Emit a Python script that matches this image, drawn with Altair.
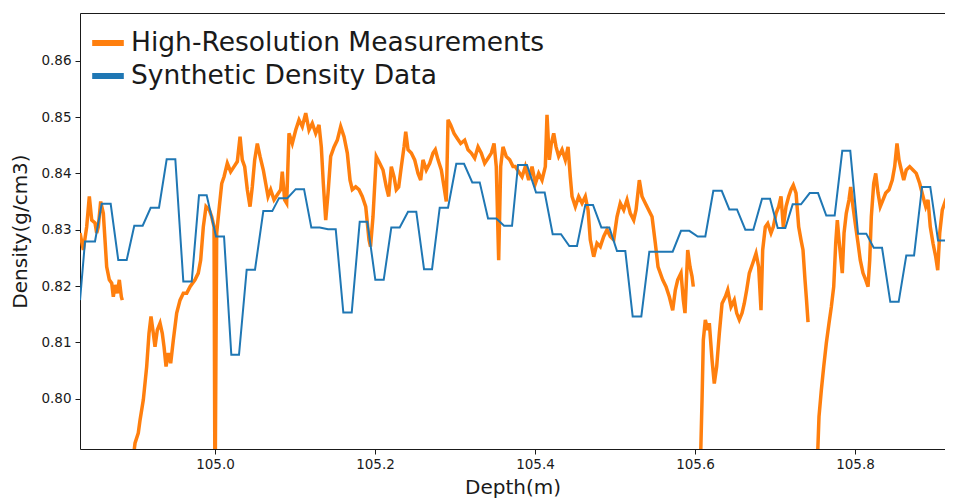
import altair as alt
import pandas as pd

# ---------------- data ----------------
SERIES_HR = "High-Resolution Measurements"
SERIES_SYN = "Synthetic Density Data"

syn_depth = [104.8313, 104.8375, 104.85, 104.8584, 104.8696, 104.8791, 104.8896, 104.8991, 104.9096,
             104.9196, 104.93, 104.9396, 104.9504, 104.9604, 104.9709, 104.98, 104.9896, 105.0013,
             105.0113, 105.0204, 105.03, 105.0396, 105.05, 105.0604, 105.0716, 105.08, 105.0904,
             105.1009, 105.1113, 105.1204, 105.1309, 105.1413, 105.1509, 105.1604, 105.1709, 105.1809,
             105.1904, 105.2004, 105.2109, 105.2204, 105.2309, 105.2413, 105.2516, 105.2613, 105.2713,
             105.2809, 105.2913, 105.3016, 105.3113, 105.3216, 105.3309, 105.3413, 105.3516, 105.3613,
             105.3713, 105.3788, 105.39, 105.4013, 105.4121, 105.4221, 105.4325, 105.4429, 105.4525,
             105.4629, 105.4725, 105.4829, 105.4929, 105.5025, 105.5129, 105.5221, 105.5329, 105.5429,
             105.5538, 105.5721, 105.5825, 105.5929, 105.6034, 105.6129, 105.6229, 105.6334, 105.6429,
             105.6525, 105.6629, 105.6729, 105.6838, 105.6938, 105.7034, 105.7129, 105.7221, 105.7325,
             105.7434, 105.7538, 105.7641, 105.7746, 105.7841, 105.7941, 105.8038, 105.8141, 105.8234,
             105.8338, 105.8441, 105.8546, 105.8641, 105.8738, 105.8838, 105.8941, 105.9038, 105.9141,
             105.9225, 105.93]
syn_density = [0.8175, 0.8279, 0.8279, 0.8346, 0.8346, 0.8246, 0.8246, 0.8307, 0.8307,
               0.8339, 0.8339, 0.8425, 0.8425, 0.8208, 0.8208, 0.8361, 0.8361, 0.8288,
               0.8288, 0.8078, 0.8078, 0.8229, 0.8229, 0.8333, 0.8333, 0.8356, 0.8356,
               0.8372, 0.8372, 0.8304, 0.8304, 0.8301, 0.8301, 0.8153, 0.8153, 0.8314,
               0.8314, 0.8211, 0.8211, 0.8304, 0.8304, 0.8332, 0.8332, 0.8230, 0.8230,
               0.8339, 0.8339, 0.8417, 0.8417, 0.8384, 0.8384, 0.8320, 0.8320, 0.8307,
               0.8307, 0.8415, 0.8415, 0.8366, 0.8366, 0.8292, 0.8292, 0.8271, 0.8271,
               0.8344, 0.8344, 0.8304, 0.8304, 0.8262, 0.8262, 0.8146, 0.8146, 0.8261,
               0.8261, 0.8261, 0.8298, 0.8298, 0.8288, 0.8288, 0.8369, 0.8369, 0.8336,
               0.8336, 0.8300, 0.8300, 0.8355, 0.8355, 0.8303, 0.8303, 0.8345, 0.8345,
               0.8365, 0.8365, 0.8325, 0.8325, 0.8440, 0.8440, 0.8293, 0.8293, 0.8268,
               0.8268, 0.8172, 0.8172, 0.8254, 0.8254, 0.8376, 0.8376, 0.8281, 0.8281,
               0.8241, 0.8228]

hr1_depth = [104.8313, 104.8354, 104.8396, 104.8429, 104.8459, 104.85, 104.8521, 104.8541, 104.8571,
             104.8604, 104.8625, 104.8646, 104.8679, 104.8709, 104.8729, 104.875, 104.8779, 104.8804,
             104.8829, 104.8841]
hr1_density = [0.8294, 0.8264, 0.8305, 0.8359, 0.8317, 0.8312, 0.8294, 0.8305, 0.8350,
               0.8329, 0.8282, 0.8234, 0.8211, 0.8205, 0.8181, 0.8202, 0.8187, 0.8211,
               0.8181, 0.8175]

hr2_depth = [104.8979, 104.9, 104.9041, 104.9063, 104.9104, 104.9146, 104.9175, 104.92, 104.9229,
             104.925, 104.9279, 104.9313, 104.9341, 104.9363, 104.9388, 104.9416, 104.9446, 104.9479,
             104.9521, 104.9563, 104.9604, 104.9646, 104.9688, 104.975, 104.9791, 104.9821, 104.9854,
             104.9888, 104.9929, 104.9959, 104.9988, 105.0, 105.0021, 105.0054, 105.0084, 105.0113,
             105.0154, 105.0196, 105.0238, 105.0279, 105.0313, 105.0341, 105.0371, 105.0404, 105.0438,
             105.0466, 105.0496, 105.0529, 105.0563, 105.0604, 105.0634, 105.0663, 105.0696, 105.0738,
             105.0779, 105.0821, 105.0841, 105.0871, 105.0896, 105.0925, 105.0966, 105.1009, 105.105,
             105.1091, 105.1134, 105.1175, 105.1216, 105.1259, 105.13, 105.1329, 105.1354, 105.1384,
             105.1413, 105.1446, 105.1488, 105.1529, 105.1571, 105.1613, 105.1654, 105.1688, 105.1716,
             105.1759, 105.18, 105.1841, 105.1884, 105.1925, 105.1944, 105.1975, 105.2016, 105.2059,
             105.21, 105.2141, 105.2171, 105.2204, 105.2238, 105.2266, 105.2296, 105.2329, 105.2363,
             105.2384, 105.2413, 105.2454, 105.2496, 105.2538, 105.2571, 105.26, 105.2641, 105.2684,
             105.2725, 105.2754, 105.2788, 105.2829, 105.2863, 105.2891, 105.2913, 105.2946, 105.2988,
             105.3029, 105.3071, 105.3121, 105.3163, 105.3204, 105.3246, 105.3288, 105.3329, 105.3371,
             105.3413, 105.3454, 105.3488, 105.3516, 105.3546, 105.3571, 105.36, 105.3641, 105.3684,
             105.3725, 105.3754, 105.3796, 105.3838, 105.3879, 105.3921, 105.3963, 105.4004, 105.4046,
             105.4088, 105.4129, 105.415, 105.4179, 105.4204, 105.4234, 105.4263, 105.4296, 105.4338,
             105.4379, 105.4413, 105.4441, 105.4463, 105.4504, 105.4546, 105.4588, 105.4629, 105.4663,
             105.4691, 105.4734, 105.4775, 105.4816, 105.4859, 105.49, 105.4941, 105.4984, 105.5025,
             105.5066, 105.5109, 105.515, 105.5191, 105.5234, 105.5263, 105.5304, 105.5338, 105.5379,
             105.5421, 105.5463, 105.5504, 105.5538, 105.5596, 105.5638, 105.5679, 105.5721, 105.5754,
             105.5784, 105.5825, 105.5854, 105.5875, 105.5909, 105.5938, 105.5963, 105.5979]
hr2_density = [0.7895, 0.7921, 0.7939, 0.7962, 0.7998, 0.8057, 0.8116, 0.8146, 0.8116,
               0.8092, 0.8122, 0.8134, 0.8116, 0.8092, 0.8057, 0.8081, 0.8063, 0.8104,
               0.8152, 0.8175, 0.8187, 0.8187, 0.8199, 0.8211, 0.8223, 0.8246, 0.8305,
               0.8341, 0.8335, 0.8323, 0.8305, 0.7800, 0.8294, 0.8341, 0.8382, 0.8394,
               0.8418, 0.8403, 0.8412, 0.8421, 0.8465, 0.8424, 0.8412, 0.8371, 0.8341,
               0.8376, 0.8424, 0.8453, 0.8430, 0.8406, 0.8382, 0.8359, 0.8371, 0.8353,
               0.8362, 0.8371, 0.8403, 0.8353, 0.8347, 0.8471, 0.8453, 0.8477, 0.8495,
               0.8483, 0.8507, 0.8477, 0.8489, 0.8471, 0.8486, 0.8447, 0.8382, 0.8317,
               0.8365, 0.8430, 0.8447, 0.8459, 0.8483, 0.8465, 0.8436, 0.8388, 0.8371,
               0.8376, 0.8371, 0.8359, 0.8341, 0.8282, 0.8270, 0.8323, 0.8430, 0.8418,
               0.8406, 0.8376, 0.8359, 0.8412, 0.8394, 0.8371, 0.8376, 0.8412, 0.8447,
               0.8474, 0.8442, 0.8436, 0.8424, 0.8400, 0.8388, 0.8424, 0.8406, 0.8418,
               0.8436, 0.8442, 0.8424, 0.8406, 0.8376, 0.8350, 0.8495, 0.8486, 0.8471,
               0.8462, 0.8453, 0.8459, 0.8442, 0.8436, 0.8427, 0.8447, 0.8436, 0.8418,
               0.8427, 0.8436, 0.8453, 0.8412, 0.8246, 0.8412, 0.8447, 0.8430, 0.8424,
               0.8412, 0.8412, 0.8403, 0.8394, 0.8412, 0.8388, 0.8412, 0.8382, 0.8400,
               0.8388, 0.8412, 0.8504, 0.8424, 0.8453, 0.8471, 0.8447, 0.8430, 0.8442,
               0.8424, 0.8447, 0.8394, 0.8359, 0.8341, 0.8359, 0.8347, 0.8359, 0.8335,
               0.8282, 0.8252, 0.8276, 0.8270, 0.8288, 0.8300, 0.8288, 0.8282, 0.8323,
               0.8347, 0.8335, 0.8353, 0.8329, 0.8317, 0.8335, 0.8388, 0.8359, 0.8347,
               0.8335, 0.8323, 0.8276, 0.8234, 0.8211, 0.8199, 0.8181, 0.8157, 0.8193,
               0.8211, 0.8223, 0.8175, 0.8152, 0.8264, 0.8234, 0.8217, 0.8199]

hr3_depth = [105.6069, 105.6088, 105.6104, 105.6129, 105.6159, 105.6179, 105.6213, 105.6241, 105.6271,
             105.6304, 105.6338, 105.6379, 105.6409, 105.645, 105.6491, 105.6521, 105.6554, 105.6588,
             105.6616, 105.6646, 105.6679, 105.6721, 105.6763, 105.6796, 105.6825, 105.6846, 105.6879,
             105.6909, 105.695, 105.6979, 105.7013, 105.7046, 105.7075, 105.7104, 105.7138, 105.7171,
             105.72, 105.7229, 105.7263, 105.7296, 105.7325, 105.735, 105.7375, 105.7394, 105.7413]
hr3_density = [0.7890, 0.7998, 0.8104, 0.8140, 0.8122, 0.8134, 0.8069, 0.8027, 0.8057,
               0.8116, 0.8169, 0.8181, 0.8193, 0.8163, 0.8175, 0.8152, 0.8140, 0.8152,
               0.8169, 0.8193, 0.8223, 0.8240, 0.8258, 0.8234, 0.8157, 0.8264, 0.8305,
               0.8311, 0.8294, 0.8305, 0.8329, 0.8341, 0.8359, 0.8305, 0.8341, 0.8359,
               0.8371, 0.8379, 0.8365, 0.8305, 0.8282, 0.8264, 0.8211, 0.8175, 0.8136]

hr4_depth = [105.7525, 105.755, 105.7579, 105.7609, 105.7641, 105.7675, 105.7704, 105.7734, 105.7759,
             105.7779, 105.78, 105.7821, 105.7841, 105.7863, 105.7891, 105.7925, 105.7946, 105.7975,
             105.8009, 105.8038, 105.8066, 105.81, 105.8134, 105.8163, 105.8184, 105.8204, 105.8234,
             105.8259, 105.8288, 105.8316, 105.835, 105.8384, 105.8425, 105.8466, 105.8496, 105.8525,
             105.855, 105.8579, 105.8609, 105.8641, 105.8684, 105.8725, 105.8766, 105.8809, 105.885,
             105.8884, 105.8913, 105.8941, 105.8975, 105.9009, 105.9034, 105.9059, 105.9091, 105.9134,
             105.9175, 105.9204, 105.9225, 105.926]
hr4_density = [0.7870, 0.7968, 0.8015, 0.8057, 0.8098, 0.8134, 0.8163, 0.8199, 0.8276,
               0.8317, 0.8282, 0.8252, 0.8223, 0.8294, 0.8329, 0.8353, 0.8376, 0.8341,
               0.8305, 0.8276, 0.8246, 0.8223, 0.8211, 0.8199, 0.8246, 0.8323, 0.8382,
               0.8400, 0.8365, 0.8341, 0.8353, 0.8365, 0.8371, 0.8388, 0.8412, 0.8453,
               0.8424, 0.8406, 0.8388, 0.8406, 0.8412, 0.8406, 0.8400, 0.8382, 0.8359,
               0.8341, 0.8353, 0.8305, 0.8276, 0.8252, 0.8228, 0.8294, 0.8335, 0.8353,
               0.8365, 0.8382, 0.8400, 0.8379]

x_ticks = [105.0, 105.2, 105.4, 105.6, 105.8]
y_ticks = [0.80, 0.81, 0.82, 0.83, 0.84, 0.85, 0.86]
x_domain = [104.83125, 105.9125]
y_domain = [0.79107, 0.86847]

# ---------------- build tables ----------------
rows = []
for seg, (dx, dy) in enumerate([(hr1_depth, hr1_density), (hr2_depth, hr2_density),
                                (hr3_depth, hr3_density), (hr4_depth, hr4_density)]):
    for a, b in zip(dx, dy):
        rows.append({"depth": a, "density": b, "series": SERIES_HR, "seg": seg})
hr_df = pd.DataFrame(rows)
syn_df = pd.DataFrame({"depth": syn_depth, "density": syn_density,
                       "series": SERIES_SYN, "seg": 0})

FONT = "DejaVu Sans"
TXT = "#1a1a1a"
color = alt.Color("series:N",
                  scale=alt.Scale(domain=[SERIES_HR, SERIES_SYN], range=["#ff7f0e", "#1f77b4"]),
                  legend=alt.Legend(title=None, orient="none", legendX=9, legendY=11,
                                    direction="vertical", symbolType="stroke",
                                    symbolStrokeWidth=6, symbolSize=1000,
                                    labelFontSize=26.5, labelFont=FONT, labelColor=TXT,
                                    labelOffset=4, rowPadding=0, labelLimit=700))

y_enc = alt.Y("density:Q", scale=alt.Scale(domain=y_domain, nice=False, zero=False),
              axis=alt.Axis(values=y_ticks, format=".2f", title="Density(g/cm3)", grid=False,
                            labelFontSize=13.5, labelFont=FONT, labelColor=TXT,
                            titleFontSize=20, titleFont=FONT, titleFontWeight="normal",
                            titleColor=TXT, titlePadding=10, tickSize=5,
                            tickColor=TXT, domainColor=TXT, labelPadding=4))

x_scale = alt.Scale(domain=x_domain, nice=False, zero=False)

hr_layer = alt.Chart(hr_df).mark_line(strokeWidth=3.5, clip=True).encode(
    x=alt.X("depth:Q", scale=x_scale,
            axis=alt.Axis(orient="top", labels=False, ticks=False, title=None, grid=False,
                          domainColor=TXT)),
    y=y_enc,
    color=color,
    detail="seg:N",
    order="depth:Q",
)

syn_layer = alt.Chart(syn_df).mark_line(strokeWidth=2, clip=True).encode(
    x=alt.X("depth:Q", scale=x_scale,
            axis=alt.Axis(values=x_ticks, format=".1f", title="Depth(m)", grid=False,
                          labelFontSize=13.5, labelFont=FONT, labelColor=TXT,
                          titleFontSize=20, titleFont=FONT, titleFontWeight="normal",
                          titleColor=TXT, titlePadding=7, tickSize=5,
                          tickColor=TXT, domainColor=TXT, labelPadding=3)),
    y=y_enc,
    color=color,
    order="depth:Q",
)

chart = alt.layer(hr_layer, syn_layer).resolve_axis(x="independent").properties(
    width=865, height=436,
    autosize=alt.AutoSizeParams(type="none"),
    padding={"left": 72, "top": 5, "right": 0, "bottom": 50},
).configure_view(stroke=None).configure(background="white")

chart.save("out.html", embed_options={"renderer": "svg", "actions": False})
